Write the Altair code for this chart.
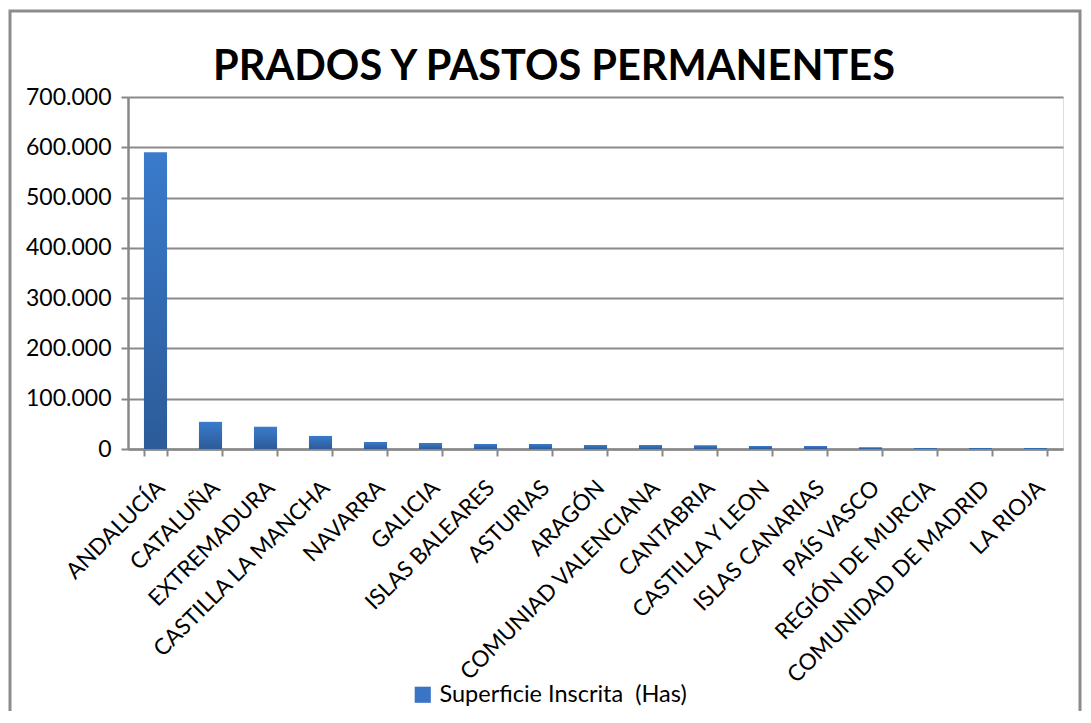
import altair as alt
import pandas as pd

regions = ["ANDALUCÍA", "CATALUÑA", "EXTREMADURA", "CASTILLA LA MANCHA", "NAVARRA",
           "GALICIA", "ISLAS BALEARES", "ASTURIAS", "ARAGÓN", "COMUNIAD VALENCIANA",
           "CANTABRIA", "CASTILLA Y LEON", "ISLAS CANARIAS", "PAÍS VASCO",
           "REGIÓN DE MURCIA", "COMUNIDAD DE MADRID", "LA RIOJA"]
values = [590000, 54000, 44000, 26000, 14000, 12000, 10000, 10000, 8000, 8000,
          7500, 6000, 6000, 3500, 2000, 2000, 2000]
series_name = "Superficie Inscrita\u00a0\u00a0(Has)"
title_text = "PRADOS Y PASTOS PERMANENTES"
y_ticks = [0, 100000, 200000, 300000, 400000, 500000, 600000, 700000]

df = pd.DataFrame({"region": regions, "value": values, "serie": series_name})

W, H = 935, 352
PAD_L, PAD_T = 120, 89
FONT = "Lato"

grad = alt.Gradient(
    gradient="linear", x1=0, x2=0, y1=0, y2=1,
    stops=[alt.GradientStop(color="#3a7bcc", offset=0),
           alt.GradientStop(color="#2c5b98", offset=1)],
)

x_enc = alt.X("region:N", sort=regions, title=None,
              scale=alt.Scale(paddingInner=0.58, paddingOuter=0.29),
              axis=alt.Axis(labelAngle=-45, labelFontSize=22.5, labelFont=FONT,
                            labelColor="#000000", labelAlign="right", labelBaseline="middle",
                            labelPadding=28, labelLimit=0, labelOffset=5,
                            tickBand="extent", tickSize=7, tickWidth=2,
                            tickColor="#888888", domainColor="#888888", domainWidth=2.5,
                            labelOverlap=False))
y_enc = alt.Y("value:Q", title=None,
              scale=alt.Scale(domain=[0, 700000], nice=False),
              axis=alt.Axis(values=y_ticks, format=",.0f", labelExpr="replace(datum.label, /,/g, '.')",
                            labelFontSize=23, labelFont=FONT, labelColor="#000000",
                            labelPadding=10, tickSize=7, tickWidth=2, tickColor="#888888",
                            domainColor="#888888", domainWidth=2.5,
                            grid=True, gridColor="#8a8a8a", gridWidth=1.8))

bars = alt.Chart(df).mark_bar(fill=grad).encode(x=x_enc, y=y_enc)

legend_layer = alt.Chart(df).mark_bar(opacity=0).encode(
    x=alt.X("region:N", sort=regions),
    y=alt.Y("value:Q"),
    color=alt.Color("serie:N", title=None,
                    scale=alt.Scale(range=["#3a74c4"]),
                    legend=alt.Legend(orient="none", legendX=283, legendY=586,
                                      symbolType="square", symbolSize=260, symbolOpacity=1,
                                      symbolStrokeWidth=0, labelFontSize=23.5, labelLimit=0,
                                      labelFont=FONT, labelColor="#000000",
                                      labelOffset=5)),
)

one = pd.DataFrame({"t": [title_text]})
frame = alt.Chart(one).mark_rect(fill=None, stroke="#8c8c8c", strokeWidth=3).encode(
    x=alt.value(-118), x2=alt.value(952), y=alt.value(-86), y2=alt.value(700)
)
title = alt.Chart(one).mark_text(font=FONT, fontSize=41.5, fontWeight="bold", color="#000000",
                                 align="center", baseline="alphabetic").encode(
    text="t:N", x=alt.value(426), y=alt.value(-17)
)

chart = alt.layer(frame, title, bars, legend_layer).properties(
    width=W, height=H,
    padding={"left": PAD_L, "top": PAD_T, "right": 20, "bottom": 262},
    autosize=alt.AutoSizeParams(type="none"),
).configure_view(stroke=None).configure(background="white")

chart.save("out.html", embed_options={"renderer": "svg", "actions": False})
